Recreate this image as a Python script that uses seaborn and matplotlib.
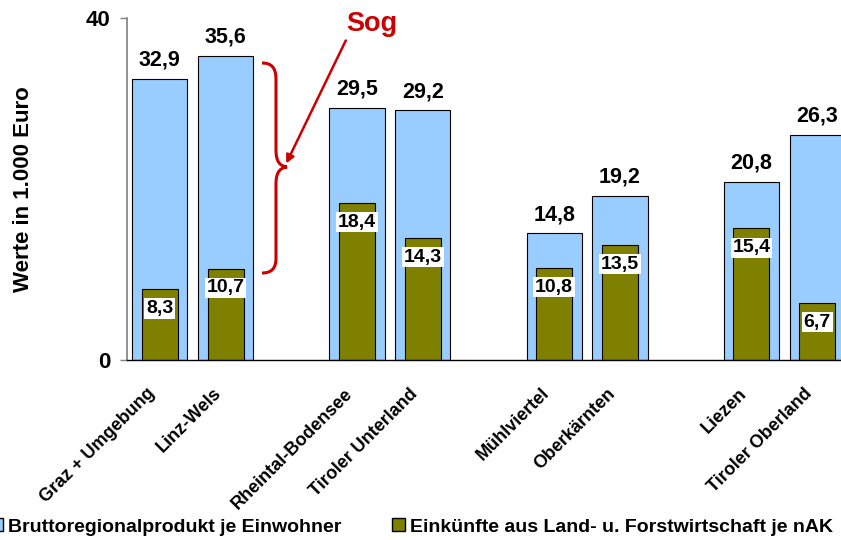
import matplotlib
matplotlib.use("Agg")
import matplotlib.pyplot as plt
import seaborn as sns
import pandas as pd
import numpy as np
from matplotlib.path import Path
from matplotlib.patches import PathPatch, Patch

# ---- data ----
categories = ["Graz + Umgebung", "Linz-Wels", "Rheintal-Bodensee", "Tiroler Unterland",
              "Mühlviertel", "Oberkärnten", "Liezen", "Tiroler Oberland"]
brp_values = [32.9, 35.6, 29.5, 29.2, 14.8, 19.2, 20.8, 26.3]
lfw_values = [8.3, 10.7, 18.4, 14.3, 10.8, 13.5, 15.4, 6.7]
order = [categories[0], categories[1], "",
         categories[2], categories[3], " ",
         categories[4], categories[5], "  ",
         categories[6], categories[7]]
series_names = ["Bruttoregionalprodukt je Einwohner",
                "Einkünfte aus Land- u. Forstwirtschaft je nAK"]

df = pd.DataFrame({"Region": categories, "BRP": brp_values, "LFW": lfw_values})

BLUE = "#99CCFF"
OLIVE = "#808000"
RED = "#CC0000"

sns.set_style("white")
plt.rcParams["font.family"] = ["Liberation Sans", "DejaVu Sans"]
plt.rcParams["font.weight"] = "bold"
plt.rcParams["text.color"] = "black"
plt.rcParams["axes.labelcolor"] = "black"
plt.rcParams["xtick.labelcolor"] = "black"
plt.rcParams["ytick.labelcolor"] = "black"

W, H = 841, 540
fig = plt.figure(figsize=(W / 100, H / 100), dpi=100)
ax = fig.add_axes([127 / W, 180 / H, 723 / W, 342 / H])

sns.barplot(data=df, x="Region", y="BRP", order=order, color=BLUE, saturation=1,
            width=0.84, edgecolor="black", linewidth=0.8, errorbar=None, ax=ax)
sns.barplot(data=df, x="Region", y="LFW", order=order, color=OLIVE, saturation=1,
            width=0.55, edgecolor="black", linewidth=0.8, errorbar=None, ax=ax)

fmt = lambda v: f"{v:.1f}".replace(".", ",")

blue_bars = ax.containers[0]
olive_bars = ax.containers[1]
ax.bar_label(blue_bars, labels=[fmt(b.get_height()) for b in blue_bars],
             padding=6, fontsize=15.5, fontweight="bold", color="black")
for b in olive_bars:
    ax.annotate(fmt(b.get_height()), xy=(b.get_x() + b.get_width() / 2, b.get_height()),
                xytext=(0, -14), textcoords="offset points", ha="center", va="center",
                fontsize=14, fontweight="bold", color="black",
                bbox=dict(facecolor="white", edgecolor="none", pad=1.2))

ax.set_xlim(-0.5, len(order) - 0.5)
ax.set_ylim(0, 40)
ax.set_yticks([0, 40])
# label anchors sit slightly left of slot centres (invisible major ticks)
ax.set_xticks(np.arange(len(order)) - 0.2)
ax.set_xticklabels(order, rotation=45, ha="right", rotation_mode="anchor", fontsize=13)
ax.set_xticks(np.arange(-0.5, len(order), 1), minor=True)
ax.tick_params(axis="x", which="major", length=0, pad=18)
ax.tick_params(axis="x", which="minor", length=6, color="#808080", width=1, direction="out")
ax.tick_params(axis="y", length=5, color="#808080", width=1, labelsize=16, left=True,
               direction="out", pad=7)
ax.set_xlabel("")
ax.set_ylabel("Werte in 1.000 Euro", fontsize=16, fontweight="bold")
ax.yaxis.set_label_coords((34 - 127) / 723, 0.5)

for s in ["top", "right"]:
    ax.spines[s].set_visible(False)
ax.spines["left"].set_color("#808080")
ax.spines["left"].set_linewidth(1.2)
ax.spines["bottom"].set_color("black")
ax.spines["bottom"].set_linewidth(1)

# ---- legends ----
h1 = Patch(facecolor=BLUE, edgecolor="black", label=series_names[0])
h2 = Patch(facecolor=OLIVE, edgecolor="black", label=series_names[1])
common = dict(loc="center left", frameon=False, handlelength=0.65, handleheight=0.65,
              handletextpad=0.25, borderpad=0, borderaxespad=0, fontsize=14)
fig.legend(handles=[h1], bbox_to_anchor=(-10 / W, 1 - 527 / H), **common)
fig.legend(handles=[h2], bbox_to_anchor=(392 / W, 1 - 527 / H), **common)

# ---- annotation: Sog ----
def fp(x, y):
    return (x / W, 1 - y / H)

fig.text(*fp(372, 24), "Sog", color=RED, fontsize=19.5, ha="center", va="center")
ax.annotate("", xy=fp(285, 166), xytext=fp(347, 38), xycoords="figure fraction",
            textcoords="figure fraction",
            arrowprops=dict(arrowstyle="-|>", color=RED, lw=1.8, mutation_scale=12))

pts = [(262, 63), (272, 63), (276, 68), (276, 80),
       (276, 150),
       (276, 162), (280, 166), (287, 167),
       (280, 168), (276, 172), (276, 184),
       (276, 258),
       (276, 268), (272, 273), (262, 273)]
codes = [Path.MOVETO, Path.CURVE4, Path.CURVE4, Path.CURVE4,
         Path.LINETO,
         Path.CURVE4, Path.CURVE4, Path.CURVE4,
         Path.CURVE4, Path.CURVE4, Path.CURVE4,
         Path.LINETO,
         Path.CURVE4, Path.CURVE4, Path.CURVE4]
brace = PathPatch(Path([fp(*p) for p in pts], codes), transform=fig.transFigure,
                  facecolor="none", edgecolor=RED, lw=2.2)
fig.add_artist(brace)

fig.savefig("out.png", dpi=100)
